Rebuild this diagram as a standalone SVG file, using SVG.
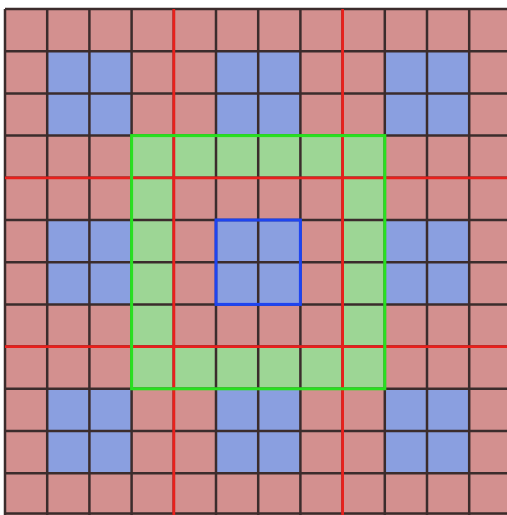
<svg xmlns="http://www.w3.org/2000/svg" width="507" height="515" viewBox="0 0 507 515">
<style>
.bg{fill:#ffffff}
.pink{fill:#d3908f}
.blue{fill:#8a9fe0}
.green{fill:#9dd695;fill-rule:evenodd}
.grid{stroke:#3b2c2c;stroke-width:2.5;fill:none}
.red{stroke:#e8201c;stroke-width:2.8;fill:none}
.gb{stroke:#28e020;stroke-width:3;fill:none}
.bb{stroke:#1e44f0;stroke-width:3;fill:none}
</style>
<rect class="bg" x="0" y="0" width="507" height="515"/>
<g id="board">
<rect class="pink" x="5" y="9" width="506.4" height="506.4"/>
</g>
<g id="blue-blocks">
<rect class="blue" x="47.2" y="51.2" width="84.4" height="84.4"/>
<rect class="blue" x="216" y="51.2" width="84.4" height="84.4"/>
<rect class="blue" x="384.8" y="51.2" width="84.4" height="84.4"/>
<rect class="blue" x="47.2" y="220" width="84.4" height="84.4"/>
<rect class="blue" x="216" y="220" width="84.4" height="84.4"/>
<rect class="blue" x="384.8" y="220" width="84.4" height="84.4"/>
<rect class="blue" x="47.2" y="388.8" width="84.4" height="84.4"/>
<rect class="blue" x="216" y="388.8" width="84.4" height="84.4"/>
<rect class="blue" x="384.8" y="388.8" width="84.4" height="84.4"/>
</g>
<g id="green-ring">
<path class="green" d="M131.6 135.6H384.8V388.8H131.6Z M173.8 177.8V346.6H342.6V177.8Z"/>
</g>
<g id="grid-lines">
<path class="grid" d="M5 9V515 M47.2 9V515 M89.4 9V515 M131.6 9V515 M173.8 9V515 M216 9V515 M258.2 9V515 M300.4 9V515 M342.6 9V515 M384.8 9V515 M427 9V515 M469.2 9V515
M5 9H507 M5 51.2H507 M5 93.4H507 M5 135.6H507 M5 177.8H507 M5 220H507 M5 262.2H507 M5 304.4H507 M5 346.6H507 M5 388.8H507 M5 431H507 M5 473.2H507 M5 513.5H507"/>
</g>
<g id="red-lines">
<path class="red" d="M173.8 9V515 M342.6 9V515 M5 177.8H507 M5 346.6H507"/>
</g>
<g id="green-border">
<rect class="gb" x="131.6" y="135.6" width="253.2" height="253.2"/>
</g>
<g id="blue-border">
<rect class="bb" x="216" y="220" width="84.4" height="84.4"/>
</g>
</svg>
